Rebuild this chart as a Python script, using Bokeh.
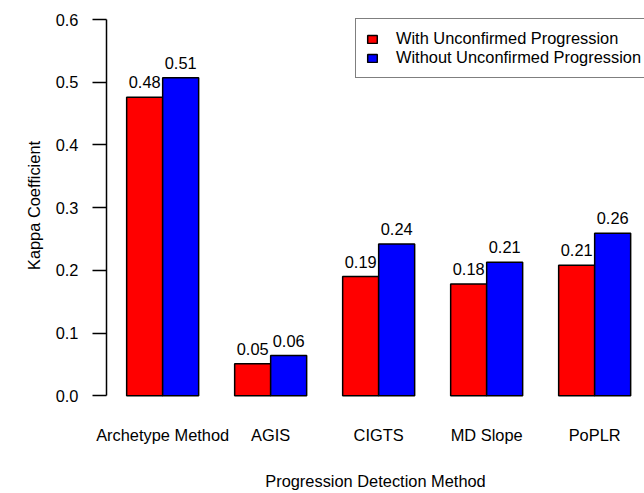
from bokeh.plotting import figure
from bokeh.models import (ColumnDataSource, Range1d, FixedTicker, Legend, LegendItem,
                          NumeralTickFormatter)
from bokeh.core.properties import value
from bokeh.embed import file_html
from bokeh.resources import INLINE

# ---- data ----
methods = ["Archetype Method", "AGIS", "CIGTS", "MD Slope", "PoPLR"]
with_unconfirmed = [0.476, 0.051, 0.190, 0.178, 0.208]
without_unconfirmed = [0.507, 0.064, 0.242, 0.213, 0.259]
series_names = ["With Unconfirmed Progression", "Without Unconfirmed Progression"]
y_ticks = [0.0, 0.1, 0.2, 0.3, 0.4, 0.5, 0.6]

FONT = "Liberation Sans"
FS = "16.4px"
W, H = 644, 493
LEFT, BOTTOM = 106, 83
PX_PER_X = 36.0
PX_PER_Y = 627.0

frame_w = W - LEFT
frame_h = H - BOTTOM
x0 = 0.44
y_top = 0.6 + 19 / PX_PER_Y

p = figure(width=W, height=H, output_backend="svg", toolbar_location=None,
           x_range=Range1d(x0, x0 + frame_w / PX_PER_X),
           y_range=Range1d(y_top - frame_h / PX_PER_Y, y_top),
           min_border_left=LEFT, min_border_right=0, min_border_top=0,
           min_border_bottom=BOTTOM)
p.outline_line_color = None
p.grid.visible = False
p.background_fill_color = "white"
p.border_fill_color = "white"

# group layout as in R barplot(beside=TRUE): two unit-wide bars, one unit gap
centers = [3 * i + 2 for i in range(len(methods))]
src_a = ColumnDataSource(dict(x=[c - 0.5 for c in centers], top=with_unconfirmed,
                              lab=["%.2f" % v for v in with_unconfirmed]))
src_b = ColumnDataSource(dict(x=[c + 0.5 for c in centers], top=without_unconfirmed,
                              lab=["%.2f" % v for v in without_unconfirmed]))

ra = p.vbar(x="x", top="top", bottom=0, width=1, source=src_a,
            fill_color="#FF0000", line_color="black", line_width=1.5)
rb = p.vbar(x="x", top="top", bottom=0, width=1, source=src_b,
            fill_color="#0000FF", line_color="black", line_width=1.5)

for s in (src_a, src_b):
    p.text(x="x", y="top", text="lab", source=s, text_align="center",
           text_baseline="alphabetic", y_offset=-15,
           text_font=value(FONT), text_font_size=FS, text_color="black")

# y axis
ya = p.yaxis[0]
ya.ticker = FixedTicker(ticks=y_ticks)
ya.bounds = (0, 0.6)
ya.formatter = NumeralTickFormatter(format="0.0")
ya.major_tick_out = 14
ya.major_tick_in = 0
ya.minor_tick_line_color = None
ya.major_label_standoff = 14
ya.major_label_text_font = FONT
ya.major_label_text_font_size = FS
ya.major_label_text_color = "black"
ya.axis_line_width = 1.5
ya.major_tick_line_width = 1.5
ya.axis_label = "Kappa Coefficient"
ya.axis_label_text_font = FONT
ya.axis_label_text_font_size = FS
ya.axis_label_text_font_style = "normal"
ya.axis_label_text_color = "black"
ya.axis_label_standoff = 10

# x axis (labels only)
xa = p.xaxis[0]
xa.ticker = FixedTicker(ticks=centers)
xa.major_label_overrides = {c: m for c, m in zip(centers, methods)}
xa.axis_line_color = None
xa.major_tick_line_color = None
xa.minor_tick_line_color = None
xa.major_tick_out = 0
xa.major_tick_in = 0
xa.major_label_standoff = 15
xa.major_label_text_font = FONT
xa.major_label_text_font_size = FS
xa.major_label_text_color = "black"
xa.axis_label = "Progression Detection Method"
xa.axis_label_text_font = FONT
xa.axis_label_text_font_size = FS
xa.axis_label_text_font_style = "normal"
xa.axis_label_text_color = "black"
xa.axis_label_standoff = 25

legend = Legend(items=[LegendItem(label=series_names[0], renderers=[ra]),
                       LegendItem(label=series_names[1], renderers=[rb])],
                location=(249, 332))
legend.border_line_color = "black"
legend.border_line_width = 1
legend.background_fill_color = "white"
legend.background_fill_alpha = 1
legend.padding = 10
legend.spacing = -2
legend.label_height = 17
legend.glyph_height = 10
legend.glyph_width = 12
legend.label_standoff = 18
legend.label_text_font = FONT
legend.label_text_font_size = FS
legend.label_text_color = "black"
legend.margin = 0
p.add_layout(legend)

open("out.html", "w").write(file_html(p, INLINE))
